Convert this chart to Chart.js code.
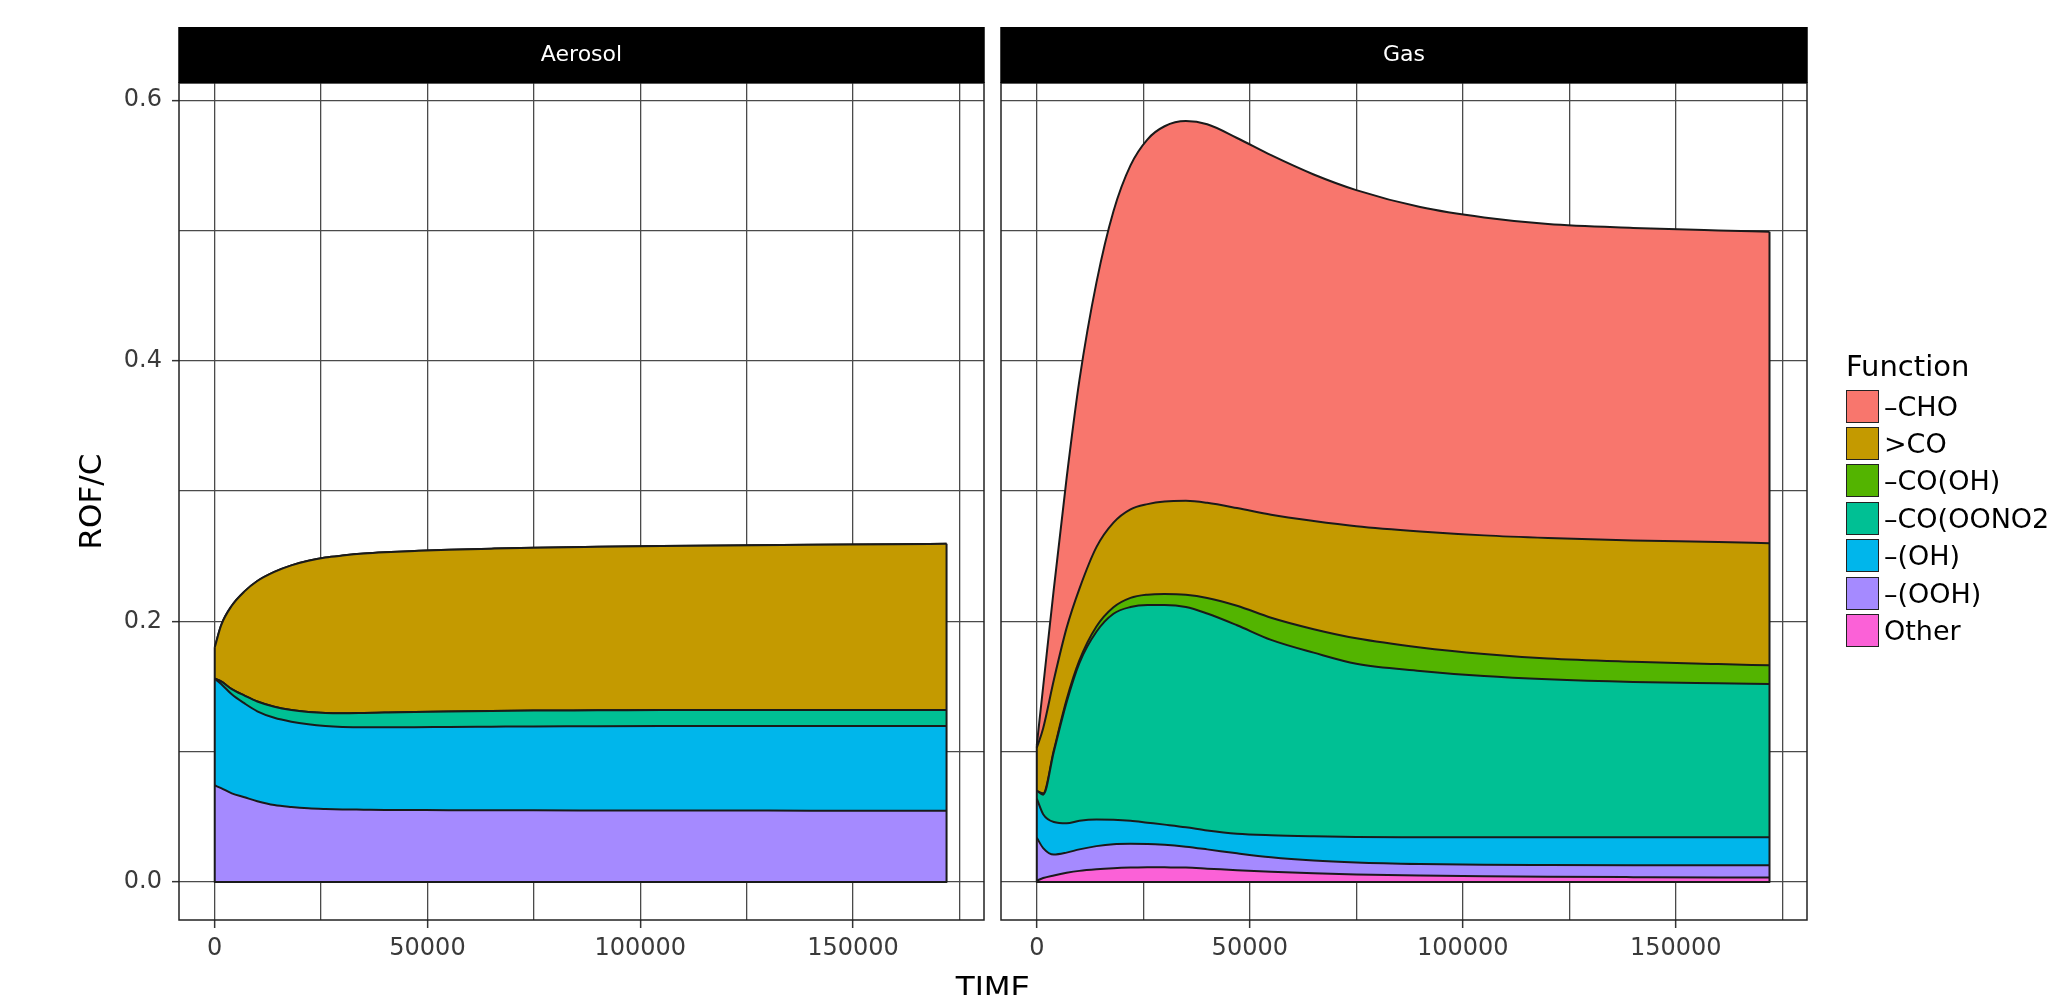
<!DOCTYPE html>
<html>
<head>
<meta charset="utf-8">
<script src="https://cdn.jsdelivr.net/npm/chart.js@4.4.1/dist/chart.umd.min.js"></script>
<style>
  html, body { margin: 0; padding: 0; background: #ffffff; }
  body { width: 2056px; height: 995px; position: relative; overflow: hidden;
         font-family: "DejaVu Sans", sans-serif; }
  canvas { position: absolute; top: 0; }
  #xTitle { position: absolute; left: 0; width: 1986px; top: 972px; text-align: center;
            font-size: 31px; line-height: 31px; color: #000; }
  #legendTitle { position: absolute; left: 1846px; top: 352px; font-size: 29px; line-height: 29px;
                 color: #000; white-space: nowrap; }
  .legendRow { position: absolute; left: 1846px; height: 34px; display: flex; align-items: center;
               white-space: nowrap; }
  .legendKey { width: 31px; height: 31px; border: 1.5px solid #222; margin-right: 5px; }
  .legendText { font-size: 27px; line-height: 27px; color: #000; }
</style>
</head>
<body>
<canvas id="aerosolChart" width="995" height="995" style="left:0px"></canvas>
<canvas id="gasChart" width="1061" height="995" style="left:995px"></canvas>
<div id="xTitle">TIME</div>
<div id="legendTitle">Function</div>
<div id="legend"></div>
<script>
// Model output times (s)
const times = [0, 1500, 4000, 7000, 10000, 14000, 18000, 22000, 26000, 30000, 35000,
               40000, 47000, 55000, 65000, 75000, 90000, 105000, 120000, 140000, 160000, 172000];

// Functional groups, in legend order (top of the stack first)
const seriesNames  = ['\u2013CHO', '>CO', '\u2013CO(OH)', '\u2013CO(OONO2', '\u2013(OH)', '\u2013(OOH)', 'Other'];
const seriesColors = ['#F8766D', '#C49A00', '#53B400', '#00C094', '#00B6EB', '#A58AFF', '#FB61D7'];

// Aerosol phase ROF/C per functional group
const aerosolCHO     = [0,0,0,0,0,0,0,0,0,0,0,0,0,0,0,0,0,0,0,0,0,0];
const aerosolCO      = [0.024,0.043,0.064,0.080,0.0925,0.1035,0.111,0.116,0.1193,0.121,0.1223,0.123,0.1236,0.1242,0.1246,0.125,0.1255,0.1259,0.1263,0.1268,0.1272,0.1275];
const aerosolCOOH    = [0,0,0,0,0,0,0,0,0,0,0,0,0,0,0,0,0,0,0,0,0,0];
const aerosolCOOONO2 = [0,0.002,0.004,0.006,0.0075,0.0085,0.009,0.0095,0.010,0.0105,0.011,0.0113,0.0116,0.0118,0.012,0.0121,0.0122,0.0123,0.0123,0.0123,0.0123,0.0123];
const aerosolOH      = [0.082,0.080,0.076,0.072,0.069,0.067,0.0655,0.0645,0.0637,0.0633,0.0632,0.0634,0.0636,0.0639,0.0642,0.0644,0.0646,0.0648,0.0649,0.065,0.065,0.065];
const aerosolOOH     = [0.074,0.072,0.068,0.065,0.062,0.059,0.0575,0.0565,0.056,0.0557,0.0555,0.0553,0.0552,0.0551,0.055,0.055,0.0549,0.0548,0.0548,0.0547,0.0547,0.0547];
const aerosolOther   = [0,0,0,0,0,0,0,0,0,0,0,0,0,0,0,0,0,0,0,0,0,0];

// Gas phase ROF/C per functional group
const gasCHO     = [0.002,0.032,0.070,0.115,0.160,0.203,0.239,0.264,0.280,0.288,0.2915,0.2905,0.284,0.276,0.266,0.258,0.249,0.244,0.241,0.240,0.239,0.239];
const gasCO      = [0.033,0.050,0.054,0.055,0.055,0.061,0.065,0.068,0.0695,0.071,0.0721,0.073,0.075,0.079,0.083,0.086,0.089,0.091,0.0925,0.093,0.0938,0.0937];
const gasCOOH    = [0,0.001,0.001,0.002,0.002,0.004,0.005,0.007,0.008,0.0085,0.0094,0.012,0.015,0.017,0.018,0.0195,0.018,0.017,0.016,0.0155,0.0147,0.0143];
const gasCOOONO2 = [0.006,0.015,0.054,0.093,0.121,0.144,0.158,0.164,0.167,0.1685,0.169,0.1665,0.160,0.150,0.141,0.133,0.1276,0.1236,0.1211,0.1191,0.1181,0.1176];
const gasOH      = [0.030,0.026,0.025,0.0225,0.022,0.0205,0.0188,0.0177,0.0163,0.0155,0.015,0.0145,0.015,0.0168,0.0185,0.0195,0.0206,0.0212,0.0214,0.0215,0.0215,0.0215];
const gasOOH     = [0.033,0.023,0.016,0.0155,0.0165,0.0178,0.0185,0.0183,0.0179,0.0173,0.016,0.0148,0.013,0.0112,0.0099,0.0092,0.0088,0.0088,0.009,0.0092,0.0094,0.0094];
const gasOther   = [0.001,0.003,0.005,0.007,0.0085,0.0097,0.0105,0.011,0.0113,0.0112,0.011,0.0102,0.009,0.0078,0.0066,0.0058,0.005,0.0044,0.004,0.0037,0.0035,0.0035];

// Axis ticks
const xTickValues = [0, 25000, 50000, 75000, 100000, 125000, 150000, 175000];
const xTickLabels = [0, 50000, 100000, 150000];
const yTickValues = [0, 0.1, 0.2, 0.3, 0.4, 0.5, 0.6];
const yTickLabels = [0, 0.2, 0.4, 0.6];
const X_MIN = -8400, X_MAX = 180800;
const Y_MIN = -0.0292, Y_MAX = 0.6132;

const GRID_COLOR = '#4a4a4a';
const OUTLINE = '#1a1a1a';
Chart.defaults.font.family = '"DejaVu Sans", sans-serif';

function buildDatasets(groups) {
  // stack from the bottom (Other) up to -CHO
  const ds = [];
  for (let i = groups.length - 1; i >= 0; i--) {
    const idx = groups.length - 1 - i;
    ds.push({
      label: seriesNames[i],
      data: times.map((t, k) => ({ x: t, y: groups[i][k] })),
      backgroundColor: seriesColors[i],
      borderColor: OUTLINE,
      borderWidth: 2,
      fill: idx === 0 ? 'origin' : '-1',
      pointRadius: 0,
      cubicInterpolationMode: 'monotone'
    });
  }
  return ds;
}

// Facet strip, panel frame and the outer edges of the stacked areas
const panelDecor = {
  id: 'panelDecor',
  afterDatasetsDraw(chart) {
    const { ctx, scales: { y } } = chart;
    const metas = chart.getSortedVisibleDatasetMetas();
    const topMeta = metas[metas.length - 1];
    const first = topMeta.data[0];
    const last = topMeta.data[topMeta.data.length - 1];
    const y0 = y.getPixelForValue(0);
    ctx.save();
    ctx.strokeStyle = OUTLINE;
    ctx.lineWidth = 2;
    ctx.lineJoin = 'round';
    ctx.beginPath();
    ctx.moveTo(first.x, first.y);
    ctx.lineTo(first.x, y0);
    ctx.lineTo(last.x, y0);
    ctx.lineTo(last.x, last.y);
    ctx.stroke();
    ctx.restore();
  },
  afterDraw(chart, args, opts) {
    const { ctx, chartArea: a } = chart;
    ctx.save();
    ctx.strokeStyle = '#222222';
    ctx.lineWidth = 1.5;
    ctx.strokeRect(a.left, a.top, a.right - a.left, a.bottom - a.top);
    ctx.fillStyle = '#000000';
    ctx.fillRect(a.left - 0.75, opts.stripTop, a.right - a.left + 1.5, a.top - opts.stripTop);
    ctx.fillStyle = '#ffffff';
    ctx.font = '22px "DejaVu Sans", sans-serif';
    ctx.textAlign = 'center';
    ctx.textBaseline = 'middle';
    ctx.fillText(opts.label, (a.left + a.right) / 2, (opts.stripTop + a.top) / 2);
    ctx.restore();
  }
};

function panelOptions(withYAxis, stripLabel, padding) {
  return {
    responsive: false,
    animation: false,
    events: [],
    layout: { padding },
    plugins: {
      legend: { display: false },
      tooltip: { enabled: false },
      panelDecor: { label: stripLabel, stripTop: 27 }
    },
    scales: {
      x: {
        type: 'linear',
        min: X_MIN, max: X_MAX,
        afterBuildTicks: s => { s.ticks = xTickValues.map(v => ({ value: v })); },
        afterFit: s => { s.height = 75; },
        border: { display: false },
        grid: {
          color: GRID_COLOR, lineWidth: 1.3, tickLength: 8, tickWidth: 1.5,
          tickColor: c => (c.tick && xTickLabels.includes(c.tick.value)) ? '#333333' : 'rgba(0,0,0,0)'
        },
        ticks: {
          autoSkip: false, maxRotation: 0, minRotation: 0, padding: 6,
          color: '#3a3a3a', font: { size: 24 },
          callback: v => xTickLabels.includes(v) ? String(v) : ''
        }
      },
      y: {
        type: 'linear',
        stacked: true,
        min: Y_MIN, max: Y_MAX,
        afterBuildTicks: s => { s.ticks = yTickValues.map(v => ({ value: v })); },
        afterFit: s => { s.width = withYAxis ? 179 : 0; },
        border: { display: false },
        grid: {
          color: GRID_COLOR, lineWidth: 1.3, drawTicks: withYAxis, tickLength: 7, tickWidth: 1.5,
          tickColor: c => (c.tick && yTickLabels.includes(c.tick.value)) ? '#333333' : 'rgba(0,0,0,0)'
        },
        ticks: {
          display: withYAxis, padding: 10, color: '#3a3a3a', font: { size: 24 },
          callback: v => yTickLabels.includes(v) ? v.toFixed(1) : ''
        },
        title: {
          display: withYAxis, text: 'ROF/C', color: '#000000',
          font: { size: 31 }, padding: { top: 74, bottom: 0 }
        }
      }
    }
  };
}

new Chart(document.getElementById('aerosolChart'), {
  type: 'line',
  data: { datasets: buildDatasets([aerosolCHO, aerosolCO, aerosolCOOH, aerosolCOOONO2, aerosolOH, aerosolOOH, aerosolOther]) },
  options: panelOptions(true, 'Aerosol', { top: 83, right: 11, bottom: 0, left: 0 }),
  plugins: [panelDecor]
});

new Chart(document.getElementById('gasChart'), {
  type: 'line',
  data: { datasets: buildDatasets([gasCHO, gasCO, gasCOOH, gasCOOONO2, gasOH, gasOOH, gasOther]) },
  options: panelOptions(false, 'Gas', { top: 83, right: 249, bottom: 0, left: 6 }),
  plugins: [panelDecor]
});

// Legend keys
const legendEl = document.getElementById('legend');
seriesNames.forEach((name, i) => {
  const row = document.createElement('div');
  row.className = 'legendRow';
  row.style.top = (389 + i * 37.4).toFixed(1) + 'px';
  const key = document.createElement('div');
  key.className = 'legendKey';
  key.style.background = seriesColors[i];
  const txt = document.createElement('span');
  txt.className = 'legendText';
  txt.textContent = name;
  row.appendChild(key);
  row.appendChild(txt);
  legendEl.appendChild(row);
});
</script>
</body>
</html>
